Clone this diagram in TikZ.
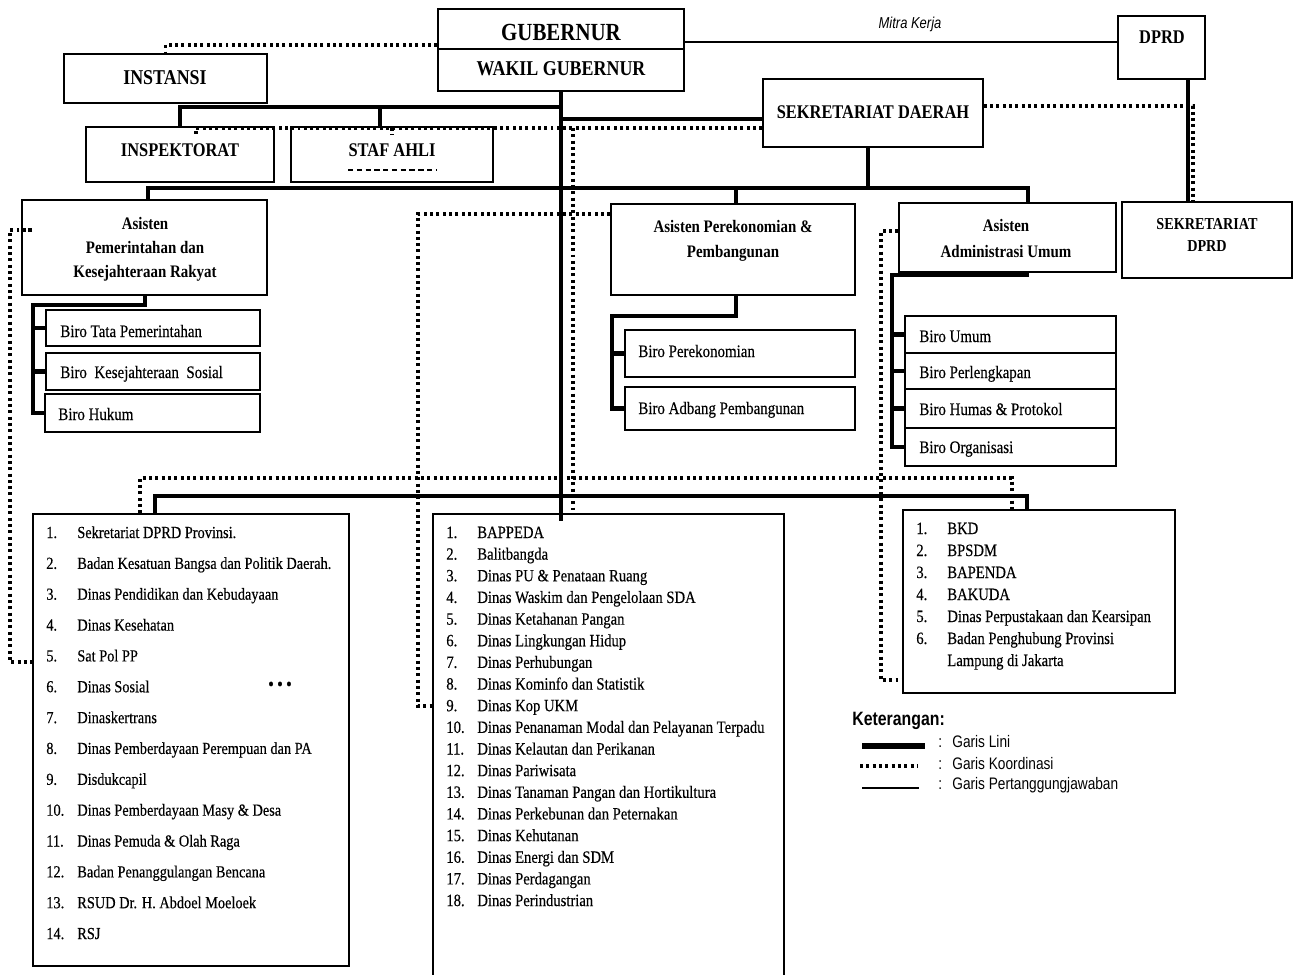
\documentclass[tikz,border=0pt]{standalone}
\usepackage{fontspec}
\setmainfont[FakeStretch=0.85, UprightFeatures={FakeBold=0.35}]{Liberation Serif}
\newfontfamily\lgd[FakeStretch=0.82]{Liberation Sans}
\newcommand{\bx}[5]{\node[obox, minimum width={(#4-#2)*0.02cm}, minimum height={(#5-#3)*0.02cm}] (#1) at ({(#2+#4)/2},{(#3+#5)/2}) {};}
\begin{document}
\begin{tikzpicture}[x=0.02cm,y=-0.02cm,
  obox/.style={draw, line width=0.9pt, inner sep=0pt},
  lini/.style={line width=2.4pt},
  koord/.style={line width=2pt, dash pattern=on 1.7pt off 1.9pt},
  tgj/.style={line width=0.8pt},
  ttl/.style={font=\bfseries\fontsize{#1}{#1}\selectfont, inner sep=0pt, align=center},
  sub/.style={font=\bfseries\fontsize{10}{#1}\selectfont, inner sep=0pt, align=center},
  lbl/.style={anchor=base west, inner sep=0pt, font=\fontsize{10}{12}\selectfont},
  itm/.style={anchor=base west, inner sep=0pt, font=\fontsize{9.6}{11}\selectfont},
  itmb/.style={anchor=base west, inner sep=0pt, font=\fontsize{9.8}{11}\selectfont},
  lg/.style={anchor=base west, inner sep=0pt, font=\lgd\fontsize{9.5}{11}\selectfont}
]
\useasboundingbox (0,0) rectangle (1294,974);
% boxes
\bx{gub}{438}{9}{684}{49}
\bx{wagub}{438}{49}{684}{91}
\bx{dprd}{1118}{16}{1205}{79}
\bx{instansi}{64}{54}{267}{103}
\bx{insp}{86}{127}{274}{182}
\bx{staf}{291}{127}{493}{182}
\bx{sekda}{763}{79}{983}{147}
\bx{sekdprd}{1122}{202}{1292}{278}
\bx{ast1}{22}{200}{267}{295}
\bx{ast2}{611}{204}{855}{295}
\bx{ast3}{899}{203}{1116}{272}
\bx{b11}{46}{310}{260}{346}
\bx{b12}{46}{353}{260}{390}
\bx{b13}{45}{394}{260}{432}
\bx{b21}{625}{330}{855}{377}
\bx{b22}{625}{387}{855}{430}
\bx{b31}{905}{316}{1116}{353}
\bx{b32}{905}{353}{1116}{389}
\bx{b33}{905}{389}{1116}{428}
\bx{b34}{905}{428}{1116}{466}
\bx{d1}{33}{514}{349}{966}
\bx{d2}{433}{514}{784}{990}
\bx{d3}{903}{510}{1175}{693}
% titles
\node[ttl=14] (tgub) at (561,32) {GUBERNUR};
\node[ttl=12] (twag) at (561,69) {WAKIL GUBERNUR};
\node[ttl=11] (tdprd) at (1162,37) {DPRD};
\node[ttl=12] (tinst) at (165,78) {INSTANSI};
\node[ttl=11] (tinsp) at (180,150) {INSPEKTORAT};
\node[ttl=11] (tstaf) at (392,150) {STAF AHLI};
\draw[densely dashed, line width=0.6pt] (348,170) -- (436,170);
\node[ttl=11] (tsekda) at (873,112) {SEKRETARIAT DAERAH};
\node[sub=12.5, font=\bfseries\fontsize{9.5}{12.5}\selectfont] (tsekdprd) at (1207,235) {SEKRETARIAT\\DPRD};
\node[sub=13.7] (tast1) at (145,249) {Asisten\\Pemerintahan dan\\Kesejahteraan Rakyat};
\node[sub=14.2] (tast2) at (733,241) {Asisten Perekonomian \&\\Pembangunan};
\node[sub=14.8] (tast3) at (1006,239) {Asisten\\Administrasi Umum};
% biro labels
\node[lbl] (tb11) at (60,337) {Biro Tata Pemerintahan};
\node[lbl] (tb12) at (60,378) {Biro\ \ Kesejahteraan\ \ Sosial};
\node[lbl] (tb13) at (58,420) {Biro Hukum};
\node[lbl] (tb21) at (638,357) {Biro Perekonomian};
\node[lbl] (tb22) at (638,414) {Biro Adbang Pembangunan};
\node[lbl] (tb31) at (919,342) {Biro Umum};
\node[lbl] (tb32) at (919,378) {Biro Perlengkapan};
\node[lbl] (tb33) at (919,415) {Biro Humas \& Protokol};
\node[lbl] (tb34) at (919,453) {Biro Organisasi};
% lists
\foreach \t [count=\i] in {{Sekretariat DPRD Provinsi.},{Badan Kesatuan Bangsa dan Politik Daerah.},{Dinas Pendidikan dan Kebudayaan},{Dinas Kesehatan},{Sat Pol PP},{Dinas Sosial},{Dinaskertrans},{Dinas Pemberdayaan Perempuan dan PA},{Disdukcapil},{Dinas Pemberdayaan Masy \& Desa},{Dinas Pemuda \& Olah Raga},{Badan Penanggulangan Bencana},{RSUD Dr. H. Abdoel Moeloek},{RSJ}}{
  \node[itm] (n1-\i) at (46,{538+(\i-1)*30.85}) {\i.};
  \node[itm] (l1-\i) at (77,{538+(\i-1)*30.85}) {\t};
}
\node[inner sep=0pt, font=\fontsize{11}{11}\selectfont] (dots) at (280,686) {\textbullet\,\textbullet\,\textbullet};
\foreach \t [count=\i] in {{BAPPEDA},{Balitbangda},{Dinas PU \& Penataan Ruang},{Dinas Waskim dan Pengelolaan SDA},{Dinas Ketahanan Pangan},{Dinas Lingkungan Hidup},{Dinas Perhubungan},{Dinas Kominfo dan Statistik},{Dinas Kop UKM},{Dinas Penanaman Modal dan Pelayanan Terpadu},{Dinas Kelautan dan Perikanan},{Dinas Pariwisata},{Dinas Tanaman Pangan dan Hortikultura},{Dinas Perkebunan dan Peternakan},{Dinas Kehutanan},{Dinas Energi dan SDM},{Dinas Perdagangan},{Dinas Perindustrian}}{
  \node[itmb] (n2-\i) at (446,{538+(\i-1)*21.65}) {\i.};
  \node[itmb] (l2-\i) at (477,{538+(\i-1)*21.65}) {\t};
}
\foreach \t [count=\i] in {{BKD},{BPSDM},{BAPENDA},{BAKUDA},{Dinas Perpustakaan dan Kearsipan},{Badan Penghubung Provinsi}}{
  \node[itmb] (n3-\i) at (916,{534+(\i-1)*22}) {\i.};
  \node[itmb] (l3-\i) at (947,{534+(\i-1)*22}) {\t};
}
\node[itmb] (l3-7) at (947,666) {Lampung di Jakarta};
% connectors: line
\draw[tgj] (gub.east |- 0,42) -- (dprd.west |- 0,42);
\node[inner sep=0pt, font=\lgd\itshape\fontsize{9}{11}\selectfont] (mitra) at (910,24) {Mitra Kerja};
\draw[lini] (wagub.south) -- (561,521);
\draw[lini] (insp.north) |- (561,107);
\draw[lini] (380,0 |- staf.north) -- (380,107);
\draw[lini] (561,119) -- (sekda.west |- 0,119);
\draw[lini] (1188,0 |- dprd.south) -- (1188,0 |- sekdprd.north);
\draw[lini] (868,0 |- sekda.south) -- (868,188);
\draw[lini] (148,0 |- ast1.north) |- (1028,188) -- (1028,0 |- ast3.north);
\draw[lini] (736,188) -- (736,0 |- ast2.north);
\draw[lini] (145,0 |- ast1.south) -- (145,305) -| (33,0 |- b13.west) -- (b13.west);
\draw[lini] (33,0 |- b11.west) -- (b11.west);
\draw[lini] (33,0 |- b12.west) -- (b12.west);
\draw[lini] (736,0 |- ast2.south) -- (736,316) -| (612,0 |- b22.west) -- (b22.west);
\draw[lini] (612,0 |- b21.west) -- (b21.west);
\draw[lini] (1027,0 |- ast3.south) -- (1027,275) -| (892,0 |- b34.west) -- (b34.west);
\draw[lini] (892,0 |- b31.west) -- (b31.west);
\draw[lini] (892,0 |- b32.west) -- (b32.west);
\draw[lini] (892,0 |- b33.west) -- (b33.west);
\draw[lini] (155,0 |- d1.north) |- (1027,496) -- (1027,0 |- d3.north);
% connectors: coordination
\draw[koord] (gub.west |- 0,45) -| (instansi.north);
\draw[koord] (sekda.west |- 0,128) -- (196,128) -- (196,135);
\draw[koord] (392,128) -- (392,135);
\draw[koord] (573,128) -- (573,0 |- d2.north);
\draw[koord] (sekda.east |- 0,106) -| (1193,0 |- sekdprd.north);
\draw[koord] (140,0 |- d1.north) |- (1012,478) -- (1012,0 |- d3.north);
\draw[koord] (ast1.west |- 0,230) -- (33,230) -- (10,230) |- (d1.west |- 0,662);
\draw[koord] (ast2.west |- 0,214) -| (418,706) -- (d2.west |- 0,706);
\draw[koord] (ast3.west |- 0,231) -| (881,680) -- (d3.west |- 0,680);
% legend
\node[anchor=base west, inner sep=0pt, font=\lgd\bfseries\fontsize{11}{13}\selectfont] (ket) at (852,725) {Keterangan:};
\draw[line width=3.2pt] (862,746) coordinate (lg1a) -- (925,746) coordinate (lg1b);
\draw[koord] (860,766) coordinate (lg2a) -- (918,766) coordinate (lg2b);
\draw[tgj] (862,788) coordinate (lg3a) -- (919,788) coordinate (lg3b);
\node[lg] (c1) at (938,747) {:};
\node[lg] (c2) at (938,769) {:};
\node[lg] (c3) at (938,789) {:};
\node[lg] (g1) at (952,747) {Garis Lini};
\node[lg] (g2) at (952,769) {Garis Koordinasi};
\node[lg] (g3) at (952,789) {Garis Pertanggungjawaban};
\end{tikzpicture}
\end{document}
